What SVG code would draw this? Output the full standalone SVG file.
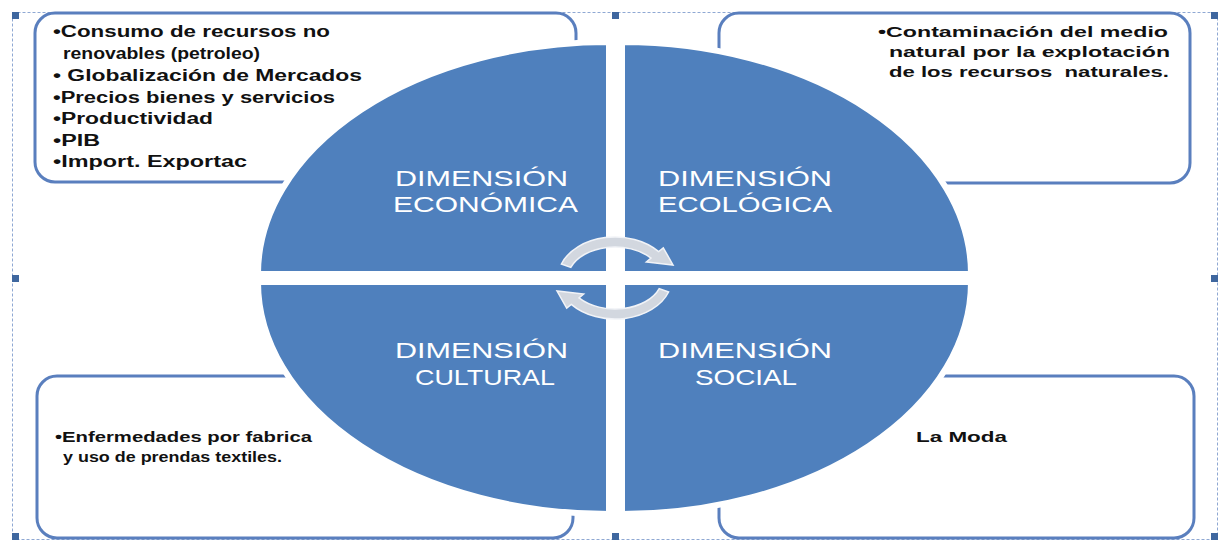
<svg xmlns="http://www.w3.org/2000/svg" width="1226" height="541" viewBox="0 0 1226 541">
<style>
.frame{fill:none;stroke:#8fa8d3;stroke-width:1;stroke-dasharray:3 2}
.handle{fill:#3f679f}
.box{fill:#fff;stroke:#5a7fbe;stroke-width:3}
.quad{fill:#4f80bd;stroke:#fff;stroke-width:6}
.t{font-family:"Liberation Sans",Arial,sans-serif;font-weight:bold;fill:#111}
.t16{font-size:16px}
.t15{font-size:15px}
.lbl{font-family:"Liberation Sans",Arial,sans-serif;font-size:22px;fill:#fff}
.arrow{fill:#d2d7df;stroke:#f1f3f7;stroke-width:1.5}
</style>
<rect class="frame" x="12.5" y="12.5" width="1205" height="527"/>

<g id="box-economica">
<rect class="box" x="35" y="13" width="541" height="169" rx="20"/>
<text class="t t16" x="53" y="37" textLength="277" lengthAdjust="spacingAndGlyphs">•Consumo de recursos no</text>
<text class="t t16" x="63" y="59" textLength="197" lengthAdjust="spacingAndGlyphs">renovables (petroleo)</text>
<text class="t t16" x="53" y="81" textLength="309" lengthAdjust="spacingAndGlyphs">• Globalización de Mercados</text>
<text class="t t16" x="53" y="102.5" textLength="282" lengthAdjust="spacingAndGlyphs">•Precios bienes y servicios</text>
<text class="t t16" x="53" y="124" textLength="160" lengthAdjust="spacingAndGlyphs">•Productividad</text>
<text class="t t16" x="53" y="145.5" textLength="47" lengthAdjust="spacingAndGlyphs">•PIB</text>
<text class="t t16" x="53" y="167" textLength="194" lengthAdjust="spacingAndGlyphs">•Import. Exportac</text>
</g>

<g id="box-ecologica">
<rect class="box" x="719" y="13" width="471" height="170" rx="20"/>
<text class="t t15" x="878" y="37" textLength="290" lengthAdjust="spacingAndGlyphs">•Contaminación del medio</text>
<text class="t t15" x="889" y="57" textLength="281" lengthAdjust="spacingAndGlyphs">natural por la explotación</text>
<text class="t t15" x="889" y="77" textLength="280" lengthAdjust="spacingAndGlyphs" xml:space="preserve">de los recursos  naturales.</text>
</g>

<g id="box-cultural">
<rect class="box" x="37" y="376" width="536" height="162" rx="20"/>
<text class="t t15" x="55" y="442" textLength="257" lengthAdjust="spacingAndGlyphs">•Enfermedades por fabrica</text>
<text class="t t15" x="63" y="462" textLength="219" lengthAdjust="spacingAndGlyphs">y uso de prendas textiles.</text>
</g>

<g id="box-social">
<rect class="box" x="719" y="376" width="475" height="162" rx="20"/>
<text class="t t15" x="916" y="442" textLength="91" lengthAdjust="spacingAndGlyphs">La Moda</text>
</g>

<g id="dim-economica">
<path class="quad" d="M609,274 H258 A351,232 0 0,1 609,42 Z"/>
<text class="lbl" x="395" y="186" textLength="173" lengthAdjust="spacingAndGlyphs">DIMENSIÓN</text>
<text class="lbl" x="393" y="212" textLength="185" lengthAdjust="spacingAndGlyphs">ECONÓMICA</text>
</g>

<g id="dim-ecologica">
<path class="quad" d="M622,274 V42 A349,232 0 0,1 971,274 Z"/>
<text class="lbl" x="658" y="186" textLength="174" lengthAdjust="spacingAndGlyphs">DIMENSIÓN</text>
<text class="lbl" x="658" y="212" textLength="174" lengthAdjust="spacingAndGlyphs">ECOLÓGICA</text>
</g>

<g id="dim-cultural">
<path class="quad" d="M609,282 H258 A351,232 0 0,0 609,514 Z"/>
<text class="lbl" x="395" y="358" textLength="173" lengthAdjust="spacingAndGlyphs">DIMENSIÓN</text>
<text class="lbl" x="415" y="385" textLength="140" lengthAdjust="spacingAndGlyphs">CULTURAL</text>
</g>

<g id="dim-social">
<path class="quad" d="M622,282 H971 A349,232 0 0,1 622,514 Z"/>
<text class="lbl" x="658" y="358" textLength="174" lengthAdjust="spacingAndGlyphs">DIMENSIÓN</text>
<text class="lbl" x="695" y="385" textLength="102" lengthAdjust="spacingAndGlyphs">SOCIAL</text>
</g>

<g id="connectors">
<path class="arrow" d="M561.4,264 A57,41 0 0,1 658.7,251.6 L663.3,247.8 L673,265 L646.4,261.9 L651,258.1 A47,31 0 0,0 570.8,267.4 Z"/>
<path class="arrow" transform="rotate(180 615 278)" d="M561.4,264 A57,41 0 0,1 658.7,251.6 L663.3,247.8 L673,265 L646.4,261.9 L651,258.1 A47,31 0 0,0 570.8,267.4 Z"/>
</g>

<g id="handles">
<rect class="handle" x="12" y="12" width="7" height="7"/>
<rect class="handle" x="612" y="12" width="7" height="7"/>
<rect class="handle" x="1211" y="12" width="7" height="7"/>
<rect class="handle" x="12" y="275" width="7" height="7"/>
<rect class="handle" x="1211" y="275" width="7" height="7"/>
<rect class="handle" x="12" y="533" width="7" height="7"/>
<rect class="handle" x="612" y="533" width="7" height="7"/>
<rect class="handle" x="1211" y="533" width="7" height="7"/>
</g>
</svg>
